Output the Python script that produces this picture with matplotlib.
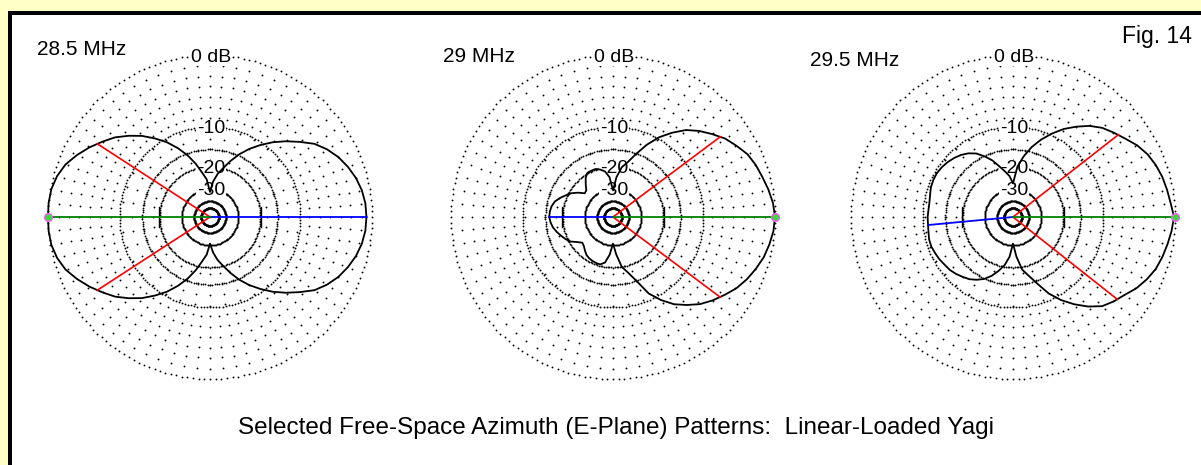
import numpy as np
import matplotlib
matplotlib.use("Agg")
import matplotlib.pyplot as plt
from matplotlib.patches import Rectangle

W, H = 1201, 465

# ---- data -------------------------------------------------------------
FREQ_LABELS = ["28.5 MHz", "29 MHz", "29.5 MHz"]

AZIMUTH_DEG = list(range(0, 360, 5))

# relative gain (dB) at each azimuth, 0..355 deg in 5 deg steps
GAIN_28_5 = [-0.6, -0.65, -0.85, -1.2, -1.7, -2.3, -3.1, -4.1, -5.6, -7.1,
             -8.7, -10.5, -12.4, -14.6, -17.2, -20, -22.5, -26, -32,
             -25, -22, -18.5, -15.5, -13, -10.8, -9.0, -7.3, -5.9, -4.6,
             -3.6, -2.6, -1.7, -0.9, -0.4, -0.1, 0.0, 0.0,
             0.0, -0.1, -0.4, -0.9, -1.7, -2.6, -3.6, -4.6, -5.9, -7.3,
             -9.0, -10.8, -13, -15.5, -18.5, -22, -25, -31,
             -26, -22.5, -20, -17.2, -14.6, -12.4, -10.5, -8.7, -7.1, -5.6,
             -4.1, -3.1, -2.3, -1.7, -1.2, -0.85, -0.65]

GAIN_29_0 = [0.0, -0.15, -0.45, -0.8, -1.1, -1.5, -2.2, -2.9, -3.9, -4.9,
             -6.1, -7.8, -9.7, -12.2, -15.2, -18, -20, -24, -31,
             -24, -21.5, -20.5, -19.8, -19.8, -19.8, -21, -23, -25, -25.4,
             -23, -21, -19.6, -18.2, -17, -16.4, -16.1, -16,
             -16.3, -16.8, -17.6, -18.5, -19.4, -20.5, -22.5, -24, -23.5,
             -22.5, -21.5, -21, -20.7, -20.5, -20.5, -21.5, -25, -31,
             -25, -20, -17.8, -15, -11.2, -9.0, -7.2, -5.9, -4.7, -3.8,
             -3.0, -2.2, -1.6, -1.1, -0.65, -0.35, -0.1]

GAIN_29_5 = [-0.1, -0.4, -0.6, -0.8, -1.1, -1.5, -2.1, -2.9, -3.6, -4.3,
             -5.3, -6.6, -8.0, -9.7, -11.6, -13.8, -16.6, -20, -27,
             -23.5, -21.5, -19.4, -17, -15.2, -13.6, -12.6, -11.9, -11.4,
             -11.0, -10.7, -10.5, -10.5, -10.6, -10.9, -11.1, -11.1, -11,
             -11, -10.9, -10.7, -10.7, -10.9, -11.1, -11.4, -11.6, -12,
             -12.5, -13, -13.8, -14.8, -16.3, -18.3, -20.5, -24, -31,
             -24, -19, -16.8, -14.2, -11.2, -9.0, -7.2, -5.6, -4.3, -3.6,
             -3.0, -2.2, -1.6, -1.1, -0.8, -0.55, -0.3]

PATTERNS = [GAIN_28_5, GAIN_29_0, GAIN_29_5]

MAX_GAIN_DIR_DEG = [180, 0, 0]          # green line
REAR_DIR_DEG = [0, 180, 185.4]          # blue line
HALF_POWER_DIR_DEG = [(147, 213), (36.8, 323.2), (38, 321.7)]   # red lines

RING_DB = [0, -10, -15, -20, -30, -40, -50]
RING_LABELS = [(0, "0 dB"), (-10, "-10"), (-20, "-20"), (-30, "-30")]

TITLE = "Selected Free-Space Azimuth (E-Plane) Patterns:  Linear-Loaded Yagi"
FIG_LABEL = "Fig. 14"

# ---- layout -----------------------------------------------------------
CENTERS_X = [210, 613, 1013]
CENTER_Y = 217
RADIUS = 162
FONT = "Liberation Sans"


def arrl_radius(db):
    """ARRL log scale: radius shrinks by 0.89 for every 2 dB down."""
    return 0.89 ** (-np.asarray(db, dtype=float) / 2.0)


def fx(x):
    return x / W


def fy(y):
    return 1.0 - y / H


def gain_at(az, gains, deg):
    a = np.asarray(list(az) + [360.0])
    g = np.asarray(list(gains) + [gains[0]])
    return float(np.interp(deg % 360.0, a, g))


fig = plt.figure(figsize=(W / 100, H / 100), dpi=100)
fig.patch.set_facecolor("white")

# page frame: pale yellow margin and black rule on top and left
fig.add_artist(Rectangle((0, fy(11)), 1, 11 / H, transform=fig.transFigure,
                         facecolor="#FFFFC8", edgecolor="none", zorder=0))
fig.add_artist(Rectangle((0, 0), 7.5 / W, 1, transform=fig.transFigure,
                         facecolor="#FFFFC8", edgecolor="none", zorder=0))
fig.add_artist(Rectangle((7.5 / W, fy(15)), 1, 4 / H, transform=fig.transFigure,
                         facecolor="black", edgecolor="none", zorder=1))
fig.add_artist(Rectangle((7.5 / W, 0), 4 / W, fy(11), transform=fig.transFigure,
                         facecolor="black", edgecolor="none", zorder=1))

dot_kw = dict(ls="none", marker="o", ms=1.35, mew=0, color="#000000",
              clip_on=False, zorder=1)

for i, cx in enumerate(CENTERS_X):
    ax = fig.add_axes([fx(cx - RADIUS), fy(CENTER_Y + RADIUS),
                       2 * RADIUS / W, 2 * RADIUS / H], projection="polar")
    ax.set_theta_zero_location("E")
    ax.set_ylim(0, 1)
    ax.set_axis_off()

    # dotted rings
    th = np.deg2rad(np.arange(0, 360, 2.0))
    for db in RING_DB:
        ax.plot(th, np.full_like(th, arrl_radius(db)), **dot_kw)

    # dotted radials
    step = 10.5 / RADIUS
    for ang in np.arange(0, 360, 5):
        r_min = arrl_radius(-20) if ang % 10 == 0 else arrl_radius(-10)
        rr = np.arange(1 - step, r_min, -step)
        ax.plot(np.full_like(rr, np.deg2rad(ang)), rr, **dot_kw)

    # short bars on the horizontal axis at the -20 dB ring
    r20 = arrl_radius(-20)
    half = np.arctan2(10 / RADIUS, r20)
    for side in (0, 180):
        t = np.deg2rad(side) + np.linspace(-half, half, 9)
        ax.plot(t, r20 / np.cos(t - np.deg2rad(side)), color="black", lw=1.0,
                zorder=2, clip_on=False)

    # ring labels
    for db, lab in RING_LABELS:
        ax.annotate(lab, xy=(np.pi / 2, arrl_radius(db)), xytext=(1, 0),
                    textcoords="offset pixels", ha="center",
                    va="center_baseline", fontsize=14, family=FONT,
                    color="black", zorder=3,
                    bbox=dict(facecolor="white", edgecolor="none", pad=0.3))

    # pattern
    gains = PATTERNS[i]
    az = np.deg2rad(AZIMUTH_DEG + [AZIMUTH_DEG[0]])
    rr = arrl_radius(gains + [gains[0]])
    ax.plot(az, rr, color="black", lw=1.3, zorder=4, clip_on=False)

    # half-power (red), rear (blue) and max-gain (green) lines
    for d in HALF_POWER_DIR_DEG[i]:
        re = arrl_radius(gain_at(AZIMUTH_DEG, gains, d))
        ax.plot([np.deg2rad(d)] * 2, [0, re], color="#FF0000", lw=1.2,
                zorder=5, clip_on=False)
    d = REAR_DIR_DEG[i]
    re = arrl_radius(gain_at(AZIMUTH_DEG, gains, d))
    ax.plot([np.deg2rad(d)] * 2, [0, re], color="#0000FF", lw=1.3, zorder=5,
            clip_on=False)
    d = np.deg2rad(MAX_GAIN_DIR_DEG[i])
    ax.plot([d, d], [0, 1], color="#008000", lw=1.3, zorder=5, clip_on=False)
    ax.plot([d], [1], marker="o", ms=5.5, mfc="#33DD33", mec="#FF55FF",
            mew=1.0, zorder=6, clip_on=False)

# captions
fig.text(fx(37), fy(55), FREQ_LABELS[0], fontsize=15, family=FONT, va="baseline")
fig.text(fx(443), fy(62), FREQ_LABELS[1], fontsize=15, family=FONT, va="baseline")
fig.text(fx(810), fy(66), FREQ_LABELS[2], fontsize=15, family=FONT, va="baseline")
fig.text(fx(1122), fy(43), FIG_LABEL, fontsize=16.5, family=FONT, va="baseline")
fig.text(fx(616), fy(434), TITLE, fontsize=17.5, family=FONT, va="baseline",
         ha="center")

fig.savefig("out.png", dpi=100, facecolor="white")
